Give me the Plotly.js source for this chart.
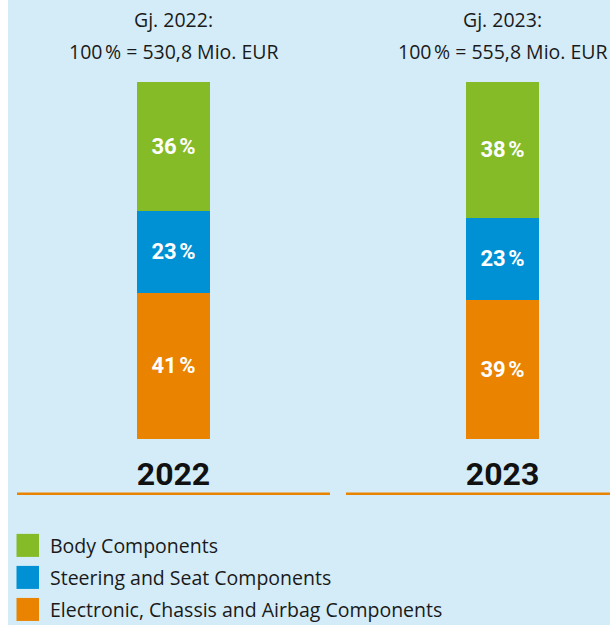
<!DOCTYPE html>
<html>
<head>
<meta charset="utf-8">
<script src="https://cdn.plot.ly/plotly-3.0.1.min.js"></script>
<style>html,body{margin:0;padding:0;background:#fff;}#chart{width:610px;height:625px;}</style>
</head>
<body>
<div id="chart"></div>
<script>
// ---- data ----
const years = ['2022', '2023'];
const headerLines = ['Gj. 2022:', 'Gj. 2023:'];
const totals = ['100\u202f% = 530,8 Mio. EUR', '100\u202f% = 555,8 Mio. EUR'];
const seriesNames = ['Body Components', 'Steering and Seat Components', 'Electronic, Chassis and Airbag Components'];
const bodyValues = [36, 38];
const steeringValues = [23, 23];
const electronicValues = [41, 39];

// ---- styles ----
const colors = {body: '#84bb26', steering: '#0091d5', electronic: '#e98300'};
const bg = '#d4ecf8';
const font = '"Open Sans", Roboto, sans-serif';
const boldFont = 'Roboto, "Open Sans", sans-serif';

function barTrace(name, vals, color) {
  return {
    type: 'bar', x: years, y: vals, name: name,
    marker: {color: color, line: {width: 0}},
    width: 0.222,
    texttemplate: '%{y}\u202f%', textposition: 'inside', insidetextanchor: 'middle',
    textangle: 0, constraintext: 'none',
    textfont: {family: boldFont, size: 22, color: '#ffffff', weight: 'bold'},
    hoverinfo: 'skip', showlegend: false
  };
}

const data = [
  barTrace(seriesNames[2], electronicValues, colors.electronic),
  barTrace(seriesNames[1], steeringValues, colors.steering),
  barTrace(seriesNames[0], bodyValues, colors.body)
];

// plot area: y from 82px (top) to 438.7px (bottom); height 356.7
const H = 356.7, T = 82, B = 625 - 438.7;
function py(pix) { return (T + H - pix) / H; } // pixel y -> paper y
function px(pix) { return pix / 610; }

const annotations = [];
years.forEach((yr, i) => {
  annotations.push({x: i, xref: 'x', y: py(20), yref: 'paper', text: headerLines[i], showarrow: false,
    font: {family: font, size: 19.5, color: '#1a1a1a'}, xanchor: 'center', yanchor: 'middle'});
  annotations.push({x: i, xref: 'x', y: py(52), yref: 'paper', text: totals[i], showarrow: false,
    font: {family: font, size: 19.5, color: '#1a1a1a'}, xanchor: 'center', yanchor: 'middle'});
});
const legendColors = [colors.body, colors.steering, colors.electronic];
const legendY = [545, 577, 609];
const shapes = [
  {type: 'rect', xref: 'paper', yref: 'paper', x0: 0, x1: px(8), y0: py(625), y1: py(0),
    fillcolor: '#ffffff', line: {width: 0}, layer: 'below'},
  {type: 'line', xref: 'paper', yref: 'paper', x0: px(17), x1: px(330), y0: py(493.5), y1: py(493.5),
    line: {color: colors.electronic, width: 2.5}},
  {type: 'line', xref: 'paper', yref: 'paper', x0: px(346), x1: px(612), y0: py(493.5), y1: py(493.5),
    line: {color: colors.electronic, width: 2.5}}
];
seriesNames.forEach((n, i) => {
  shapes.push({type: 'rect', xref: 'paper', yref: 'paper', x0: px(16.5), x1: px(39), y0: py(legendY[i] + 11.5), y1: py(legendY[i] - 11.5),
    fillcolor: legendColors[i], line: {width: 0}});
  annotations.push({x: px(48), xref: 'paper', y: py(legendY[i]), yref: 'paper', text: n, showarrow: false,
    xanchor: 'left', yanchor: 'middle', font: {family: font, size: 19.5, color: '#1a1a1a'}});
});

const layout = {
  width: 610, height: 625,
  margin: {l: 0, r: 0, t: T, b: B, pad: 0},
  paper_bgcolor: bg, plot_bgcolor: bg,
  barmode: 'stack',
  showlegend: false,
  xaxis: {type: 'category', range: [-0.5274, 1.3267], showgrid: false, zeroline: false, showline: false,
    ticks: '', tickfont: {family: boldFont, size: 32, color: '#111111', weight: 'bold'}, ticklabelstandoff: 13, fixedrange: true},
  yaxis: {range: [0, 100], visible: false, fixedrange: true},
  annotations: annotations,
  shapes: shapes
};

Plotly.newPlot('chart', data, layout, {displayModeBar: false, staticPlot: true});
</script>
</body>
</html>
